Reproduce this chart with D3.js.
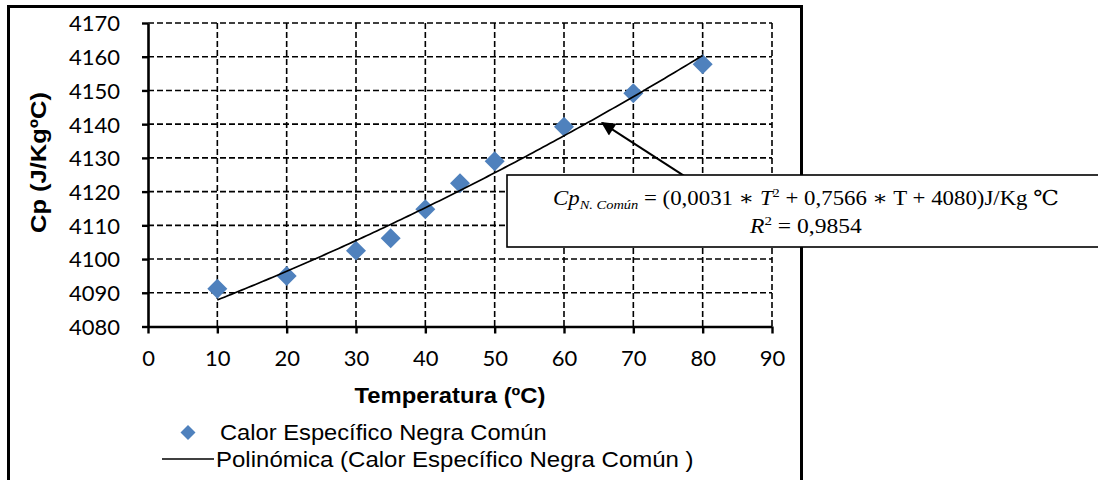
<!DOCTYPE html>
<html><head><meta charset="utf-8">
<script src="https://cdn.jsdelivr.net/npm/d3@7"></script>
<style>body{margin:0;background:#fff}svg{display:block}</style>
</head><body>
<svg id="c" width="1098" height="480"></svg>
<script>
// ---- data ----
const temps = [10, 20, 30, 35, 40, 45, 50, 60, 70, 80];
const cpValues = [4091.2, 4095.0, 4102.5, 4106.2, 4114.8, 4122.5, 4129.0, 4139.2, 4149.2, 4157.8];
const xTicks = [0, 10, 20, 30, 40, 50, 60, 70, 80, 90];
const yTicks = [4080, 4090, 4100, 4110, 4120, 4130, 4140, 4150, 4160, 4170];
const fitCoeffs = [4080, 0.7566, 0.0031]; // c0 + c1*T + c2*T^2 (from chart label)
const fitRange = [10, 80];
const xTitle = "Temperatura (ºC)";
const yTitle = "Cp (J/KgºC)";
const legendLabels = ["Calor Específico Negra Común", "Polinómica (Calor Específico Negra Común )"];
const eqSubscript = "N. Común";
const eqCoefText = ["0,0031", "0,7566", "4080"];
const r2Text = "0,9854";
// annotation arrow in data units: tail -> tip
const arrowTail = [78.5, 4124.9];
const arrowTip = [65.5, 4140.4];

// ---- layout ----
const svg = d3.select("#c");
const x = d3.scaleLinear().domain([0, 90]).range([148, 772]);
const y = d3.scaleLinear().domain([4080, 4170]).range([326.5, 23]);
const blue = "#4F81BD";

// outer chart border
svg.append("rect").attr("x", 8.5).attr("y", 6.5).attr("width", 793).attr("height", 500)
  .attr("fill", "#fff").attr("stroke", "#000").attr("stroke-width", 3);

// grid
const grid = svg.append("g").attr("stroke", "#000").attr("stroke-width", 1.6).attr("stroke-dasharray", "6,3");
grid.selectAll("line.v").data(xTicks.slice(1)).join("line")
  .attr("x1", d => x(d)).attr("x2", d => x(d)).attr("y1", y(4170)).attr("y2", y(4080));
grid.selectAll("line.h").data(yTicks.slice(1)).join("line")
  .attr("x1", x(0)).attr("x2", x(90)).attr("y1", d => y(d)).attr("y2", d => y(d));

// axes
const tickFont = "Lato, 'Open Sans', sans-serif";
const gy = svg.append("g").attr("transform", `translate(${x(0)},0)`)
  .call(d3.axisLeft(y).tickValues(yTicks).tickSize(6).tickSizeOuter(0).tickPadding(22).tickFormat(d3.format("d")));
const gx = svg.append("g").attr("transform", `translate(0,${y(4080)})`)
  .call(d3.axisBottom(x).tickValues(xTicks).tickSize(7).tickSizeOuter(0).tickPadding(17).tickFormat(d3.format("d")));
[gx, gy].forEach(g => {
  g.select(".domain").attr("stroke", "#000").attr("stroke-width", 2.6);
  g.selectAll(".tick line").attr("stroke", "#000").attr("stroke-width", 2.4);
  g.selectAll(".tick text").attr("fill", "#000").style("font-family", tickFont).style("font-size", "22px");
});
gy.selectAll(".tick text").attr("dy", "0.36em");

// points
svg.append("g").selectAll("path").data(temps).join("path")
  .attr("d", d3.symbol(d3.symbolSquare, 200)())
  .attr("transform", (d, i) => `translate(${x(d)},${y(cpValues[i])}) rotate(45)`)
  .attr("fill", blue);

// trendline
const poly = t => fitCoeffs[0] + fitCoeffs[1] * t + fitCoeffs[2] * t * t;
const ts = d3.range(fitRange[0], fitRange[1] + 0.001, 0.5);
svg.append("path").datum(ts)
  .attr("d", d3.line().x(t => x(t)).y(t => y(poly(t))))
  .attr("fill", "none").attr("stroke", "#000").attr("stroke-width", 1.7);

// helper to fit text to a target width
function fitText(t, target, px, py, align, rot) {
  t.attr("x", 0).attr("y", 0).attr("text-anchor", "start");
  const w = t.node().getBBox().width;
  const s = target / w;
  const off = align === "middle" ? -target / 2 : 0;
  const r = rot ? ` rotate(${rot})` : "";
  t.attr("transform", `translate(${px},${py})${r} translate(${off},0) scale(${s},1)`);
}

// axis titles
const sansB = "'Liberation Sans', Arial, sans-serif";
const xt = svg.append("text").text(xTitle).style("font-family", sansB).style("font-weight", "bold").style("font-size", "21.5px");
fitText(xt, 191, 354.5, 403, "start");
const yt = svg.append("text").text(yTitle).style("font-family", sansB).style("font-weight", "bold").style("font-size", "22px");
fitText(yt, 141, 45.5, 162.5, "middle", -90);

// legend
svg.append("path").attr("d", d3.symbol(d3.symbolSquare, 112)())
  .attr("transform", "translate(188,432.5) rotate(45)").attr("fill", blue);
svg.append("line").attr("x1", 162).attr("x2", 214).attr("y1", 459).attr("y2", 459)
  .attr("stroke", "#000").attr("stroke-width", 1.6);
const l1 = svg.append("text").text(legendLabels[0]).style("font-family", sansB).style("font-size", "22px");
fitText(l1, 327, 220, 439.5, "start");
const l2 = svg.append("text").text(legendLabels[1]).style("font-family", sansB).style("font-size", "22px");
fitText(l2, 478, 216, 466.5, "start");

// arrow
svg.append("defs").append("marker").attr("id", "ah").attr("viewBox", "0 0 10 10")
  .attr("refX", 9).attr("refY", 5).attr("markerWidth", 8).attr("markerHeight", 7)
  .attr("orient", "auto").attr("markerUnits", "strokeWidth")
  .append("path").attr("d", "M0,0 L10,5 L0,10 z").attr("fill", "#000");
svg.append("line")
  .attr("x1", x(arrowTail[0])).attr("y1", y(arrowTail[1]) + 6)
  .attr("x2", x(arrowTip[0])).attr("y2", y(arrowTip[1]))
  .attr("stroke", "#000").attr("stroke-width", 2).attr("marker-end", "url(#ah)");

// equation box
svg.append("rect").attr("x", 507).attr("y", 175).attr("width", 620).attr("height", 72)
  .attr("fill", "#fff").attr("stroke", "#000").attr("stroke-width", 1.6);
const serif = "'Liberation Serif', 'DejaVu Serif', serif";
const e1 = svg.append("text").style("font-family", serif).style("font-size", "20.5px");
e1.append("tspan").style("font-style", "italic").text("Cp");
e1.append("tspan").style("font-style", "italic").style("font-size", "13px").attr("dy", 4).text(eqSubscript);
e1.append("tspan").attr("dy", -4).text(` = (${eqCoefText[0]} \u2217 `);
e1.append("tspan").style("font-style", "italic").text("T");
e1.append("tspan").style("font-size", "13px").attr("dy", -8).text("2");
e1.append("tspan").attr("dy", 8).text(` + ${eqCoefText[1]} \u2217 T + ${eqCoefText[2]})J/Kg \u2103`);
fitText(e1, 506, 806, 205, "middle");
const e2 = svg.append("text").style("font-family", serif).style("font-size", "20.5px");
e2.append("tspan").style("font-style", "italic").text("R");
e2.append("tspan").style("font-size", "13px").attr("dy", -8).text("2");
e2.append("tspan").attr("dy", 8).text(` = ${r2Text}`);
fitText(e2, 113, 806.5, 233, "middle");
</script>
</body></html>
